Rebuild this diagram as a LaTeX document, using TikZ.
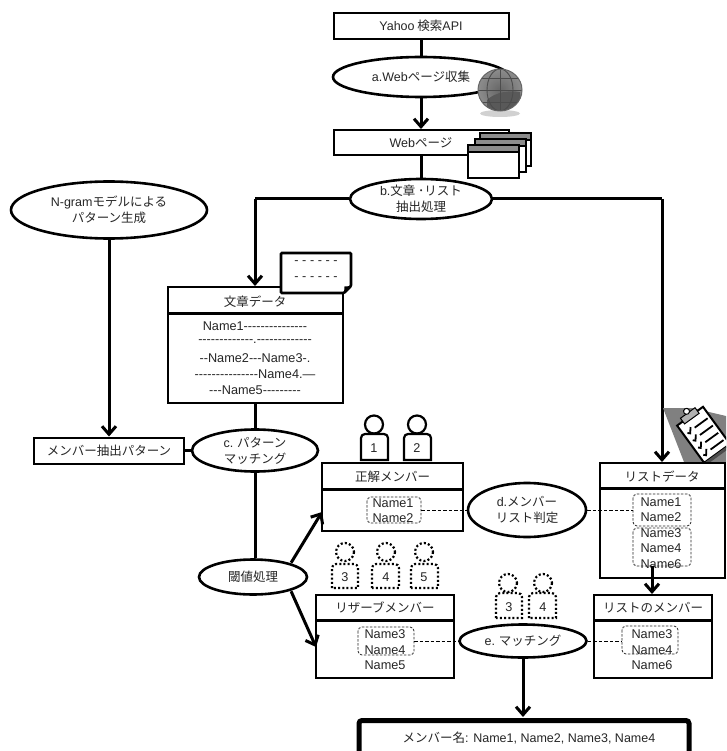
\documentclass[tikz,border=0pt]{standalone}
\usepackage{fontspec}
\setmainfont{Liberation Sans}
\newfontfamily\plain{Liberation Sans}
\newfontfamily\cjk{Noto Sans CJK JP}
\usetikzlibrary{arrows.meta,shapes.geometric}
\tikzset{
  x=1pt,y=-1pt,
  lbl/.style={font=\fontsize{12.5}{16}\selectfont\cjk,align=center,inner sep=0pt,text=black!85},
  nm/.style={font=\fontsize{12.7}{16}\selectfont\plain,align=center,inner sep=0pt,text=black!85},
  box/.style={draw=black,line width=2pt,fill=white},
  thick line/.style={draw=black,line width=3pt},
  arrowline/.style={draw=black,line width=3pt,-{Straight Barb[length=8pt,width=14pt,line width=3pt]}},
  oval/.style={draw=black,line width=2.6pt,fill=white,ellipse,inner sep=0pt},
  divider/.style={draw=black,line width=3pt},
  dashbox/.style={draw=black!85,line width=.8pt,dash pattern=on 2.5pt off 1.5pt,rounded corners=4pt},
  dashlink/.style={draw=black,line width=1pt,dash pattern=on 3.5pt off 2pt},
  solidp/.style={draw=black,line width=2.2pt,fill=white},
  dotp/.style={draw=black,line width=2.2pt,dash pattern=on 2pt off 2.2pt,fill=white},
  win/.style={draw=black,line width=2pt,fill=white},
}
\newcommand{\person}[7]{% style, head x, head y, body left, body right, body top, body bottom
  \draw[#1] (#2,#3) circle (9);
  \draw[#1] (#4,#7) [rounded corners=4pt] -- (#4,#6) -- (#5,#6) [sharp corners] -- (#5,#7) -- cycle;
}
\begin{document}
\begin{tikzpicture}
\useasboundingbox (0,0) rectangle (726,751);
\fill[white] (0,0) rectangle (726,751);

\coordinate (leftcorner) at (255,199);
\coordinate (rightcorner) at (662,199);

% Top boxes and ellipses
\node[box,minimum width=175,minimum height=26,lbl] (yahoo) at (421,26) {{\plain Yahoo} 検索{\plain API}};
\node[oval,minimum width=176,minimum height=40,lbl] (ea) at (421,77) {{\plain a.Web}ページ収集};
\node[box,minimum width=175,minimum height=25] (web) at (421,142.5) {};
\node[oval,minimum width=142,minimum height=40,lbl] (eb) at (421,199) {{\plain b.}文章 ･リスト\\抽出処理};

\draw[thick line] (yahoo) -- (ea);
\draw[arrowline] (ea) -- (web);
\draw[thick line] (web) -- (eb);

% Globe
\fill[black!18] (500,113.5) ellipse (20 and 3.5);
\shade[inner color=black!60,outer color=black!45] (500,90) ellipse (22 and 21);
\begin{scope}
\clip (500,90) ellipse (22 and 21);
\fill[black!65] (487,100) .. controls (495,92) and (510,90) .. (520,92) -- (522,111) -- (487,111) -- cycle;
\draw[black!70,line width=.9pt] (500,68) -- (500,112);
\draw[black!70,line width=.9pt] (500,90) ellipse (13 and 21);
\draw[black!70,line width=.9pt] (477,90) -- (523,90);
\draw[black!70,line width=.9pt] (477,78) -- (523,78);
\draw[black!70,line width=.9pt] (477,102) -- (523,102);
\end{scope}
\draw[black!60,line width=1pt] (500,90) ellipse (22 and 21);

% Windows
\foreach \l/\t in {480/133,475/139,468/145}{
  \draw[win] (\l,\t) rectangle ++(51,33);
  \fill[black!45] (\l+1,\t+1) rectangle ++(49,6);
  \draw[black,line width=1.2pt] (\l,\t+7) -- ++(51,0);
}
\node[lbl] (webt) at (421,142.5) {{\plain Web}ページ};

% Ngram
\node[oval,minimum width=196,minimum height=57,lbl] (ng) at (109,210) {{\plain N-gram}モデルによる\\パターン生成};
\node[box,minimum width=150,minimum height=26,lbl] (pat) at (109,450.5) {メンバー抽出パターン};
\draw[arrowline] (ng) -- (pat);

% connectors behind data
\node[box,minimum width=175,minimum height=116] (doc) at (255,345) {};
\draw[thick line] (eb.west) -- (leftcorner);
\draw[arrowline] (leftcorner) -- (doc.north);
\draw[thick line] (eb.east) -- (rightcorner);

% Note
\draw[divider] (167,313) -- (342,313);
\node[lbl] (doct) at (255,301.5) {文章データ};
\draw[black,line width=2.6pt,fill=white,rounded corners=1pt] (281,253) -- (351,253) -- (351,286) -- (344,293) -- (281,293) -- cycle;
\fill[black] (351,286) -- (344,293) -- (344.5,286.5) -- cycle;
\node[nm] (n1) at (316,263) {- - - - - -};
\node[nm] (n2) at (316,279) {- - - - - -};
\node[nm] (d1) at (255,326) {Name1---------------};
\node[nm] (d2) at (255,342) {-------------.-------------};
\node[nm] (d3) at (255,358) {--Name2---Name3-.};
\node[nm] (d4) at (255,374) {---------------Name4.—};
\node[nm] (d5) at (255,390) {---Name5---------};

% c ellipse and threshold
\node[oval,minimum width=126,minimum height=42,lbl] (ec) at (255,450.5) {{\plain c.} パターン\\マッチング};
\node[oval,minimum width=108,minimum height=35,lbl] (th) at (253,577) {閾値処理};
\draw[thick line] (doc.south) -- (ec);
\draw[thick line] (pat) -- (ec);
\draw[thick line] (ec.south) -- (ec.south |- th.north);

% Correct member box
\node[box,minimum width=141,minimum height=68] (cor) at (392.5,497) {};
\draw[divider] (322,489) -- (463,489);
\node[lbl] (cort) at (392.5,477) {正解メンバー};
\node[nm] (c1) at (393,503) {Name1};
\node[nm] (c2) at (393,518) {Name2};
\draw[dashbox] (367,497) rectangle (421,523);
\coordinate (dl) at (421,510);

% List data
\node[box,minimum width=125,minimum height=115] (lst) at (662.5,520.5) {};
\draw[divider] (600,488) -- (725,488);
\node[lbl] (lstt) at (662,477) {リストデータ};
\node[nm] (l1) at (661,502) {Name1};
\node[nm] (l2) at (661,517) {Name2};
\node[nm] (l3) at (661,533) {Name3};
\node[nm] (l4) at (661,548) {Name4};
\node[nm] (l5) at (661,564) {Name6};
\draw[dashbox] (633,494) rectangle (691,526);
\draw[dashbox] (633,528) rectangle (691,566);
\coordinate (dr) at (633,510);
\draw[arrowline] (rightcorner) -- (lst.north -| rightcorner);

% d ellipse
\node[oval,minimum width=118,minimum height=54,lbl] (ed) at (527,510) {{\plain d.}メンバー\\リスト判定};
\draw[dashlink] (dl) -- (ed);
\draw[dashlink] (ed) -- (dr);

% Reserve box
\node[box,minimum width=138,minimum height=83] (res) at (385,636.5) {};
\draw[divider] (316,620) -- (454,620);
\node[lbl] (rest) at (385,608) {リザーブメンバー};
\node[nm] (r1) at (385,634) {Name3};
\node[nm] (r2) at (385,650) {Name4};
\node[nm] (r3) at (385,665) {Name5};
\draw[dashbox] (358,627) rectangle (414,655);
\coordinate (rl) at (414,641);

% List member box
\node[box,minimum width=118,minimum height=83] (lm) at (653,636.5) {};
\draw[divider] (594,620) -- (712,620);
\node[lbl] (lmt) at (653,608) {リストのメンバー};
\node[nm] (m1) at (652,634) {Name3};
\node[nm] (m2) at (652,650) {Name4};
\node[nm] (m3) at (652,665) {Name6};
\draw[dashbox] (622,626) rectangle (678,654);
\coordinate (ll) at (622,641);
\coordinate (ls) at (652,566);
\draw[arrowline] (ls) -- (ls |- lm.north);

% threshold arrows
\draw[arrowline] (th.north east) ++(-1,-1) -- (322,512);
\draw[arrowline] (th.south east) ++(-1,1) -- (316,647);

% e ellipse
\node[oval,minimum width=127,minimum height=33,lbl] (ee) at (523,641) {{\plain e.} マッチング};
\draw[dashlink] (rl) -- (ee);
\draw[dashlink] (ee) -- (ll);

% Final box
\node[lbl] (fin) at (529,738) {メンバー名{\plain : Name1, Name2, Name3, Name4}};
\coordinate (fintop) at (523,717);
\draw[arrowline] (ee.south) -- (fintop);
\draw[black,line width=5pt,rounded corners=3pt] (359,755) -- (359,720.5) -- (689,720.5) -- (689,755);

% Persons
\person{solidp}{374}{424.5}{361}{388}{434}{460}
\person{solidp}{417}{424.5}{404}{431}{434}{460}
\node[nm] (p1) at (374,448) {1};
\node[nm] (p2) at (417,448) {2};
\person{dotp}{345}{552}{332}{358}{564}{588}
\person{dotp}{386}{552}{372}{399}{564}{588}
\person{dotp}{424}{552}{411}{438}{564}{588}
\node[nm] (p3) at (345,577) {3};
\node[nm] (p4) at (386,577) {4};
\node[nm] (p5) at (424,577) {5};
\person{dotp}{508}{583}{496}{522}{593}{618}
\person{dotp}{543}{583}{529}{556}{593}{618}
\node[nm] (p6) at (509,607) {3};
\node[nm] (p7) at (543,607) {4};

% Clipboard
\begin{scope}
\clip (655,400) rectangle (726,461.5);
\fill[black!50] (663,408) -- (692,408) -- (726,416) -- (726,462) -- (684,462) -- cycle;
\begin{scope}[shift={(703,434)},rotate=36]
\draw[black,line width=2pt,fill=white] (-16,-22) rectangle (16,24);
\fill[black!70] (-17,24) rectangle (17,27);
\draw[black,line width=1pt,fill=black!30] (-9,-26) rectangle (9,-19);
\draw[black,line width=1pt,fill=white] (0,-28) circle (3);
\foreach \yy in {-10,-1,8,17}{
  \draw[black,line width=1.8pt] (-3,\yy) -- (13,\yy);
  \draw[black,line width=1.8pt] (-12,\yy) -- (-10,\yy+2) -- (-6,\yy-3);
}
\end{scope}
\end{scope}
\end{tikzpicture}
\end{document}
